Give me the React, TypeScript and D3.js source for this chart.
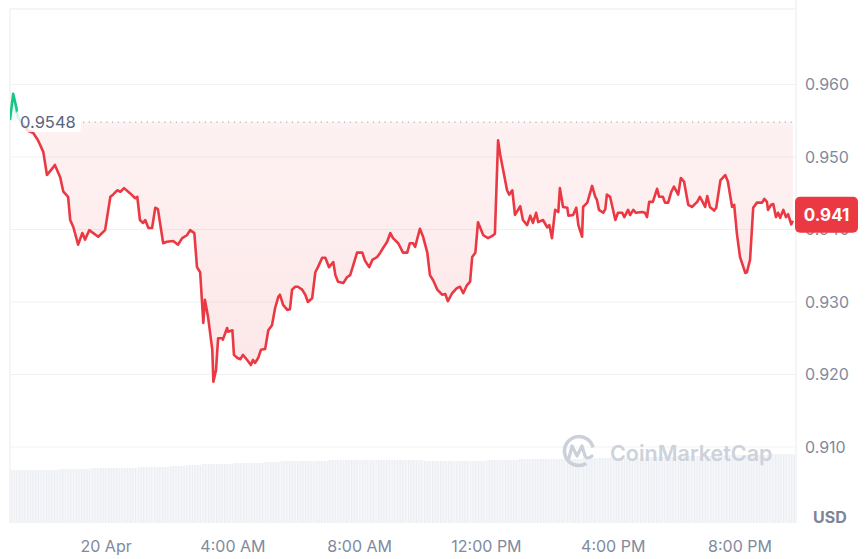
import * as d3 from 'd3'

// minutes from 20 Apr 00:00 (negative values = evening of 19 Apr)
const priceMinutes = [
  -182, -176, -170, -167, -159, -148, -138, -129, -119, -112, -100, -97, -87, -81, -72, -68, -62, -53, -45, -40,
  -32, -15, -2, 8, 13, 21, 27, 34, 45, 55, 59, 64, 70, 74, 80, 87, 93, 98, 108, 115,
  127, 136, 144, 153, 159, 167, 172, 178, 184, 187, 193, 201, 203, 208, 212, 220, 221, 229, 231, 239,
  242, 248, 254, 259, 267, 274, 278, 282, 288, 293, 301, 307, 314, 320, 326, 329, 335, 343, 348, 352,
  358, 363, 371, 377, 382, 390, 396, 401, 409, 415, 422, 430, 434, 439, 449, 456, 462, 468, 475, 485,
  490, 498, 504, 513, 519, 524, 532, 538, 543, 553, 562, 570, 575, 581, 585, 594, 600, 608, 613, 619,
  627, 636, 642, 647, 655, 664, 670, 676, 683, 689, 693, 699, 704, 714, 723, 731, 736, 742, 746, 759,
  763, 769, 774, 784, 789, 797, 803, 808, 814, 818, 827, 835, 839, 844, 850, 856, 859, 865, 873, 875,
  884, 890, 894, 901, 903, 911, 920, 926, 929, 933, 941, 945, 948, 954, 964, 969, 977, 981, 988, 992,
  998, 1003, 1015, 1020, 1024, 1028, 1035, 1043, 1047, 1054, 1058, 1064, 1070, 1075, 1083, 1088, 1094, 1102, 1109, 1119,
  1124, 1130, 1134, 1138, 1143, 1151, 1155, 1163, 1166, 1172, 1177, 1185, 1189, 1194, 1200, 1210, 1213, 1219, 1225, 1232,
  1242, 1246, 1251, 1253, 1259, 1263, 1268, 1272, 1276, 1282, 1287, 1291, 1297, 1300,
]

const prices = [
  0.9551, 0.9587, 0.9568, 0.9554, 0.9547, 0.9536, 0.9533, 0.9523, 0.9507, 0.9475, 0.9486, 0.9489, 0.9472, 0.9452, 0.9445, 0.9413, 0.9403, 0.9379, 0.9395, 0.9386,
  0.9399, 0.939, 0.9399, 0.9445, 0.9448, 0.9454, 0.9452, 0.9457, 0.945, 0.9443, 0.9445, 0.9413, 0.9409, 0.9413, 0.9402, 0.9402, 0.943, 0.9428, 0.9381, 0.9383,
  0.9384, 0.9379, 0.9388, 0.9392, 0.9399, 0.9395, 0.9348, 0.9341, 0.9271, 0.9303, 0.9279, 0.9234, 0.919, 0.9206, 0.925, 0.925, 0.9248, 0.9264, 0.9259, 0.9261,
  0.9227, 0.9223, 0.9221, 0.9227, 0.922, 0.9213, 0.922, 0.9216, 0.9223, 0.9234, 0.9235, 0.9261, 0.9268, 0.9292, 0.9307, 0.931, 0.9296, 0.9289, 0.929, 0.9317,
  0.9321, 0.9321, 0.9317, 0.931, 0.93, 0.9305, 0.9341, 0.9348, 0.9361, 0.9361, 0.9348, 0.9355, 0.9337, 0.9328, 0.9326, 0.9334, 0.9337, 0.9351, 0.9368, 0.9368,
  0.9357, 0.9348, 0.9358, 0.9362, 0.9368, 0.9374, 0.9383, 0.9395, 0.9388, 0.9381, 0.9368, 0.9368, 0.9381, 0.9381, 0.9376, 0.9401, 0.939, 0.9368, 0.9337, 0.933,
  0.9317, 0.931, 0.9311, 0.9301, 0.9312, 0.9319, 0.9321, 0.9312, 0.9323, 0.9328, 0.9362, 0.9368, 0.941, 0.9392, 0.9388, 0.9391, 0.9394, 0.9523, 0.9503, 0.9454,
  0.9448, 0.9454, 0.942, 0.9432, 0.9413, 0.9406, 0.9419, 0.9409, 0.9423, 0.941, 0.9413, 0.9403, 0.9406, 0.9388, 0.9427, 0.9424, 0.9457, 0.9431, 0.943, 0.9419,
  0.942, 0.943, 0.9406, 0.939, 0.9431, 0.9437, 0.946, 0.9445, 0.9441, 0.9427, 0.9423, 0.9428, 0.9448, 0.9445, 0.9413, 0.9423, 0.9423, 0.9417, 0.9427, 0.942,
  0.9427, 0.9423, 0.9424, 0.9423, 0.9417, 0.9438, 0.9438, 0.9456, 0.9445, 0.9445, 0.9437, 0.9437, 0.9452, 0.9459, 0.9448, 0.9471, 0.9466, 0.9434, 0.9431, 0.9438,
  0.9445, 0.9437, 0.9431, 0.9446, 0.9431, 0.9426, 0.943, 0.9468, 0.947, 0.9475, 0.9466, 0.9431, 0.9434, 0.9395, 0.9362, 0.934, 0.9341, 0.9358, 0.943, 0.9437,
  0.9437, 0.9442, 0.9438, 0.9427, 0.9434, 0.9435, 0.9417, 0.9423, 0.9416, 0.9427, 0.9417, 0.9421, 0.9407, 0.9412,
]

// volume per half hour, starting 19 Apr 21:00 (millions USD)
const volumes = [
  66.3, 66.3, 66.3, 67.5, 67.5, 68.8, 68.8, 68.8, 70.0, 70.0,
  71.3, 72.5, 73.8, 73.8, 75.0, 75.0, 76.3, 77.5, 77.5, 77.5,
  78.8, 78.8, 78.8, 78.8, 78.8, 78.8, 77.5, 77.5, 77.5, 77.5,
  78.8, 78.8, 80.0, 80.0, 80.0, 80.0, 81.3, 81.3, 81.3, 81.3,
  82.5, 82.5, 83.8, 83.8, 83.8, 85.0, 85.0, 85.0, 86.3, 86.3,
]

const openPrice = 0.9548
const lastPriceLabel = '0.941'
const yTicks = [0.91, 0.92, 0.93, 0.94, 0.95, 0.96]
const xTickMinutes = [0, 240, 480, 720, 960, 1200]
const xTickLabels = ['20 Apr', '4:00 AM', '8:00 AM', '12:00 PM', '4:00 PM', '8:00 PM']

const W = 865
const H = 559
const plot = { left: 10, right: 796, top: 9, bottom: 523 }
const day = new Date(2024, 3, 20).getTime()
const toDate = (m: number) => new Date(day + m * 60000)

const RED = '#ea3943'
const GREEN = '#16c784'
const GRID = '#eff2f5'
const AXIS_TEXT = '#808a9d'
const FONT = 'Inter, "Noto Sans", sans-serif'

export default function App() {
  const x = d3.scaleTime()
    .domain([toDate(-182), toDate(1306)])
    .range([plot.left, plot.right])

  const y = d3.scaleLinear()
    .domain([0.9, 0.9704])
    .range([519.5, plot.top])

  const vol = d3.scaleLinear()
    .domain([0, 100])
    .range([plot.bottom, plot.bottom - 80])

  const pts = priceMinutes.map((m, i) => ({ t: toDate(m), p: prices[i] }))
  const yBase = y(openPrice)

  const line = d3.line<{ t: Date; p: number }>()
    .x(d => x(d.t))
    .y(d => y(d.p))

  const area = d3.area<{ t: Date; p: number }>()
    .x(d => x(d.t))
    .y0(yBase)
    .y1(d => y(d.p))

  const linePath = line(pts) || ''
  const areaPath = area(pts) || ''
  const last = pts[pts.length - 1]
  const lastY = y(last.p) - 6

  return (
    <div style={{ position: 'fixed', left: 0, top: 0, width: W, height: H, background: '#fff' }}>
      <svg width={W} height={H} style={{ display: 'block', fontFamily: FONT }}>
        <defs>
          <clipPath id="below">
            <rect x={plot.left} y={yBase} width={plot.right - plot.left} height={plot.bottom - yBase} />
          </clipPath>
          <clipPath id="above">
            <rect x={plot.left} y={plot.top} width={plot.right - plot.left} height={yBase - plot.top} />
          </clipPath>
          <clipPath id="plotClip">
            <rect x={plot.left} y={plot.top} width={plot.right - plot.left} height={plot.bottom - plot.top} />
          </clipPath>
          <linearGradient id="redFill" gradientUnits="userSpaceOnUse" x1={0} x2={0} y1={yBase} y2={y(0.919)}>
            <stop offset="0%" stopColor={RED} stopOpacity={0.07} />
            <stop offset="100%" stopColor={RED} stopOpacity={0.12} />
          </linearGradient>
          <linearGradient id="greenFill" gradientUnits="userSpaceOnUse" x1={0} x2={0} y1={y(0.9587)} y2={yBase}>
            <stop offset="0%" stopColor={GREEN} stopOpacity={0.15} />
            <stop offset="100%" stopColor={GREEN} stopOpacity={0.03} />
          </linearGradient>
          <pattern id="volStripes" patternUnits="userSpaceOnUse" width={2.7} height={10}>
            <rect x={0} y={0} width={2.7} height={10} fill="#f7f8fa" />
            <rect x={0} y={0} width={1.2} height={10} fill="#eaedf1" />
          </pattern>
        </defs>

        {/* frame */}
        <line x1={plot.left} x2={plot.right} y1={plot.top} y2={plot.top} stroke={GRID} strokeWidth={1.5} />
        <line x1={plot.left} x2={plot.left} y1={plot.top} y2={plot.bottom} stroke={GRID} strokeWidth={1.5} />
        <line x1={plot.right} x2={plot.right} y1={0} y2={plot.bottom} stroke={GRID} strokeWidth={1.5} />

        {/* grid */}
        {yTicks.map(t => (
          <line key={t} x1={plot.left} x2={plot.right} y1={y(t)} y2={y(t)} stroke={GRID} strokeWidth={1} />
        ))}

        {/* volume */}
        <g clipPath="url(#plotClip)">
          {volumes.map((v, i) => {
            const x0 = x(toDate(-180 + i * 30))
            const x1 = x(toDate(-150 + i * 30))
            return (
              <rect key={i} x={x0} y={vol(v)} width={x1 - x0} height={plot.bottom - vol(v)} fill="url(#volStripes)" />
            )
          })}
        </g>

        {/* watermark */}
        <g opacity={0.9}>
          <circle cx={579} cy={451} r={14.5} fill="none" stroke="#c7ccd6" strokeWidth={3.5}
            strokeDasharray="72 19" transform="rotate(60 579 451)" />
          <path d="M569,458 L572,446 L577,456 L582,446 L585,456 Q587,460 592,456" fill="none"
            stroke="#c7ccd6" strokeWidth={3.2} strokeLinecap="round" strokeLinejoin="round" />
          <text x={610} y={461} fontSize={21.5} fontWeight={600} fill="#c9ced8">CoinMarketCap</text>
        </g>

        {/* area + line */}
        <path d={areaPath} fill="url(#redFill)" clipPath="url(#below)" />
        <path d={areaPath} fill="url(#greenFill)" clipPath="url(#above)" />
        <path d={linePath} fill="none" stroke={RED} strokeWidth={2.6} strokeLinejoin="round" clipPath="url(#below)" />
        <path d={linePath} fill="none" stroke={GREEN} strokeWidth={2.6} strokeLinejoin="round" clipPath="url(#above)" />

        {/* open price */}
        <line x1={83} x2={plot.right} y1={yBase} y2={yBase} stroke="#a6b0c3" strokeWidth={1.2}
          strokeDasharray="1.2 4.6" />
        <rect x={16} y={yBase - 11} width={65} height={21} rx={3} fill="#fff" fillOpacity={0.82} />
        <text x={20} y={yBase + 6} fontSize={16.5} fill="#58667e">{openPrice}</text>

        {/* right axis */}
        {yTicks.map(t => (
          <text key={t} x={805} y={y(t) + 6} fontSize={16} fill={AXIS_TEXT}>{t.toFixed(3)}</text>
        ))}
        <text x={813} y={523} fontSize={16} fontWeight={700} fill="#7d8597">USD</text>

        {/* last price */}
        <rect x={795} y={lastY - 18} width={63} height={36} rx={5} fill={RED} />
        <text x={826.5} y={lastY + 6} fontSize={17} fontWeight={700} fill="#fff" textAnchor="middle">{lastPriceLabel}</text>

        {/* bottom axis */}
        {xTickMinutes.map((m, i) => (
          <text key={m} x={x(toDate(m))} y={552} fontSize={16} fill={AXIS_TEXT} textAnchor="middle">
            {xTickLabels[i]}
          </text>
        ))}
      </svg>
    </div>
  )
}
